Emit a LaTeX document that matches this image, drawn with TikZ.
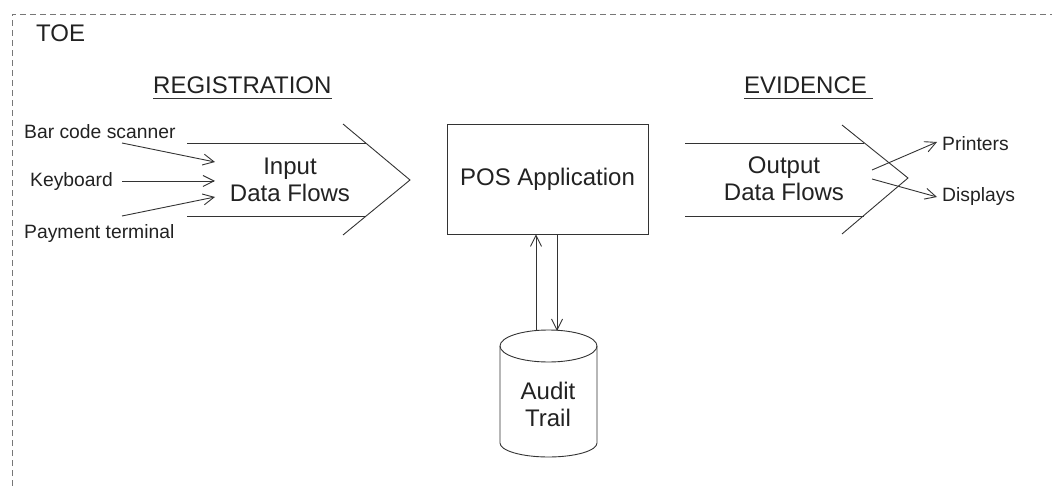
\documentclass[tikz,border=0pt]{standalone}
\usepackage{fontspec}
\setmainfont{Liberation Sans}
\usetikzlibrary{arrows.meta}
\definecolor{ink}{HTML}{222222}
\definecolor{edge}{HTML}{333333}
\definecolor{dashgray}{HTML}{777777}
\begin{document}
\begin{tikzpicture}[x=1pt,y=-1pt,
  line/.style={draw=edge, line width=0.9pt},
  flow/.style={line, -{Straight Barb[length=11pt,width=11pt]}},
  big/.style={font=\fontsize{24}{27}\selectfont, text=ink, align=center, inner sep=0pt},
  small/.style={font=\fontsize{19.3}{22}\selectfont, text=ink, inner sep=0pt},
  frame/.style={draw=dashgray, line width=0.9pt, dash pattern=on 6pt off 4pt},
]
\useasboundingbox (0,0) rectangle (1052,486);

% boundary of the target of evaluation
\draw[frame] (12,486) -- (12,14) -- (1052,14);
\node[big, anchor=base west] (toe) at (36,42) {TOE};

% section headings
\node[big, anchor=base west] (reg) at (153,94) {REGISTRATION};
\draw[line] (reg.base west) ++(0,4) coordinate (regu) -- (regu -| reg.base east);
\node[big, anchor=base west] (evi) at (744,94) {EVIDENCE};
\draw[line] (evi.base west) ++(0,4) coordinate (eviu) -- ([xshift=6pt]eviu -| evi.base east);

% input sources
\node[small, anchor=base west] (scan) at (24,139) {Bar code scanner};
\node[small, anchor=base west] (kbd) at (30,187) {Keyboard};
\node[small, anchor=base west] (pay) at (24,239) {Payment terminal};

% input flow chevron
\coordinate (i1) at (187,143);
\coordinate (i2) at (366,143);
\coordinate (i3) at (187,216);
\coordinate (i4) at (366,216);
\coordinate (ia) at (343,124);
\coordinate (ib) at (410,180);
\coordinate (ic) at (343,235);
\draw[line] (i1) -- (i2);
\draw[line] (i3) -- (i4);
\draw[line] (ia) -- (ib) -- (ic);
\node[big, anchor=base] (inflow) at (290,202) {Input\\Data Flows};

% source arrows into the input flow
\coordinate (s1) at (122,143);
\coordinate (s2) at (122,181);
\coordinate (s3) at (122,216);
\coordinate (t1) at (215,162);
\coordinate (t2) at (215,181);
\coordinate (t3) at (215,197);
\draw[flow] (s1) -- (t1);
\draw[flow] (s2) -- (t2);
\draw[flow] (s3) -- (t3);

% application
\node[line, big, minimum width=201pt, minimum height=110pt] (pos) at (547.5,179) {POS Application};

% output flow chevron
\coordinate (o1) at (685,143);
\coordinate (o2) at (864,143);
\coordinate (o3) at (685,216);
\coordinate (o4) at (864,216);
\coordinate (oa) at (842,125);
\coordinate (ob) at (908,178);
\coordinate (oc) at (842,234);
\draw[line] (o1) -- (o2);
\draw[line] (o3) -- (o4);
\draw[line] (oa) -- (ob) -- (oc);
\node[big, anchor=base] (outflow) at (784,201) {Output\\Data Flows};

% output destinations
\node[small, anchor=base west] (prn) at (942,151) {Printers};
\node[small, anchor=base west] (dsp) at (942,202) {Displays};
\coordinate (u1) at (872,170);
\coordinate (u2) at (872,179);
\coordinate (v1) at (937,142);
\coordinate (v2) at (937,197);
\draw[flow] (u1) -- (v1);
\draw[flow] (u2) -- (v2);

% audit trail store
\draw[line] (548.5,346) ellipse [x radius=48.5pt, y radius=16pt];
\draw[line] (500,346) -- (500,443)
  .. controls (500,450.7) and (521.7,457) .. (548.5,457)
  .. controls (575.3,457) and (597,450.7) .. (597,443) -- (597,346);
\node[big, anchor=base] (audit) at (548,426) {Audit\\Trail};

% read and write between application and store
\coordinate (rd) at (536,330);
\coordinate (wr) at (557,331);
\draw[flow] (rd) -- (rd |- pos.south);
\draw[flow] (wr |- pos.south) -- (wr);
\end{tikzpicture}
\end{document}
